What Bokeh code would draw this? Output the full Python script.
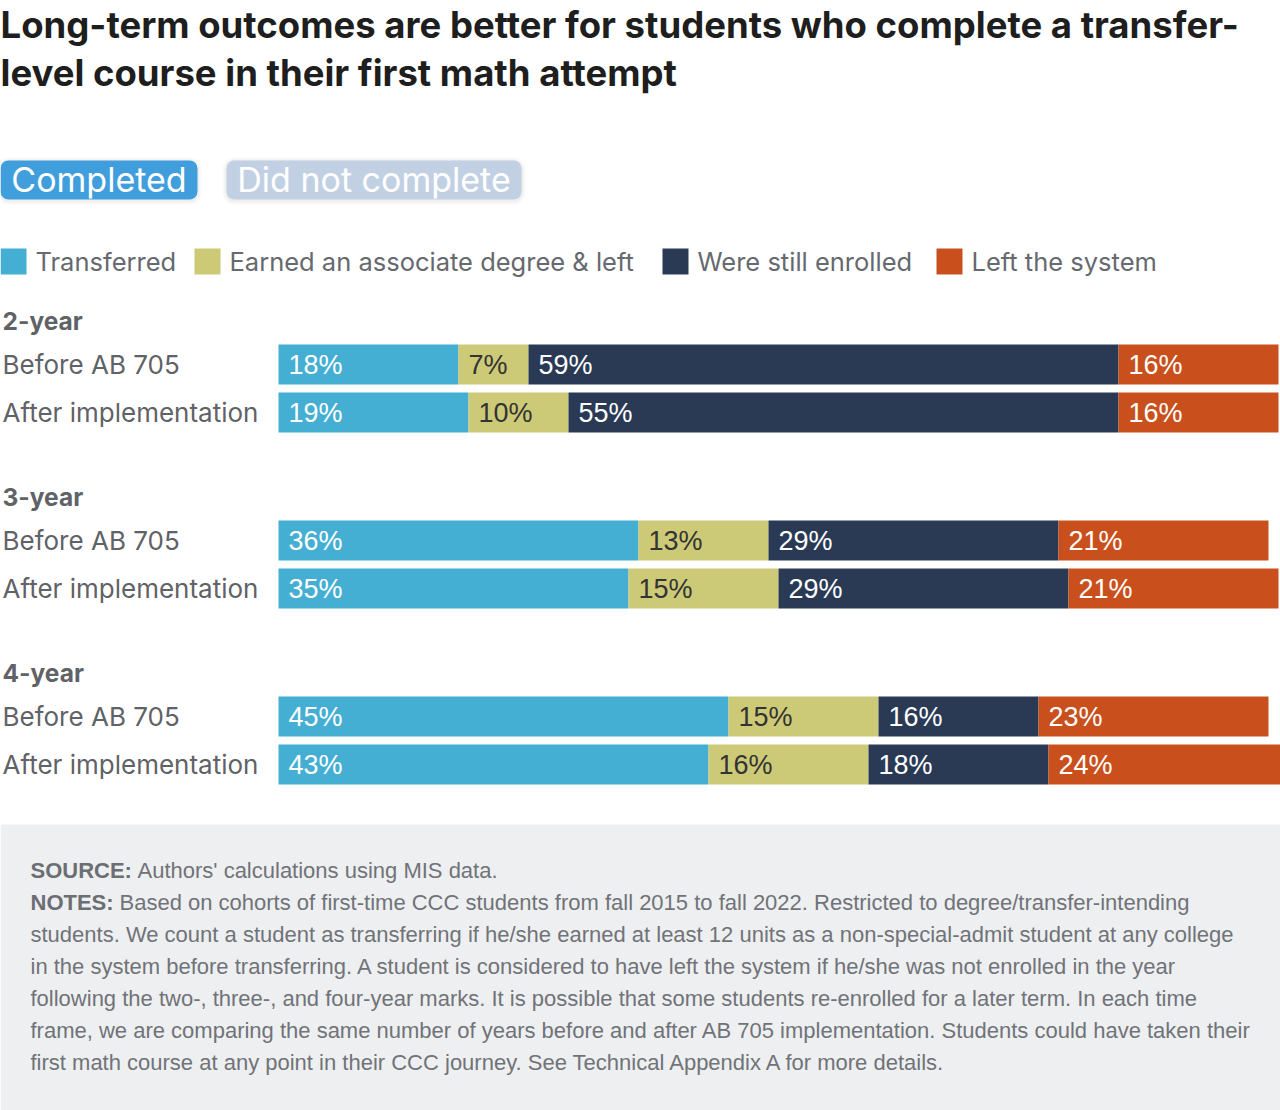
from bokeh.plotting import figure
from bokeh.models import Range1d, BoxAnnotation, ColumnDataSource
from bokeh.core.properties import value
from bokeh.embed import file_html
from bokeh.resources import INLINE

# ---- data -------------------------------------------------------------
groups = ["2-year", "3-year", "4-year"]
periods = ["Before AB 705", "After implementation"]
categories = ["Transferred", "Earned an associate degree & left",
              "Were still enrolled", "Left the system"]
# one entry per row: 2-year before/after, 3-year before/after, 4-year before/after
transferred = [18, 19, 36, 35, 45, 43]
associate = [7, 10, 13, 15, 15, 16]
enrolled = [59, 55, 29, 29, 16, 18]
left_system = [16, 16, 21, 21, 23, 24]

colors = ["#45aed3", "#cdca77", "#2a3a55", "#c9501c"]
label_colors = ["white", "#333333", "white", "white"]

# ---- page geometry (pixels) ------------------------------------------
W, H = 1280, 1110
BAR_X0 = 278          # left edge of bars
PX_PER_PT = 10        # pixels per percentage point


def px(x):
    """horizontal pixel -> x data coordinate"""
    return (x - BAR_X0) / PX_PER_PT


def py(y):
    """vertical pixel (from top) -> y data coordinate"""
    return H - y


LABEL_FONT = value("Inter")
NUM_FONT = value("Liberation Sans")

p = figure(width=W, height=H, output_backend="svg", toolbar_location=None,
           x_range=Range1d(px(0), px(W)), y_range=Range1d(0, H),
           min_border=0, outline_line_color=None)
p.axis.visible = False
p.grid.visible = False
p.background_fill_color = "white"
p.border_fill_color = "white"

# ---- title -------------------------------------------------------------
p.text(x=[px(0), px(0)], y=[py(24), py(72)],
       text=["Long-term outcomes are better for students who complete a transfer-",
             "level course in their first math attempt"],
       text_font=LABEL_FONT, text_font_style="bold", text_font_size="36.5px",
       text_color="#1e1e1e", text_baseline="middle", text_align="left")

# ---- toggle buttons (with a soft drop shadow) ---------------------------
buttons = [(0, 197, "#419edd"), (226, 521, "#c2d0e3")]
for bl, br, bcol in buttons:
    for grow, alpha in [(4, 0.025), (2, 0.04)]:
        p.add_layout(BoxAnnotation(left=px(bl - grow), right=px(br + grow),
                                   top=py(160 - grow + 1), bottom=py(199 + grow + 1),
                                   fill_color="black", fill_alpha=alpha, line_color=None,
                                   border_radius=8 + grow, level="underlay"))
    p.add_layout(BoxAnnotation(left=px(bl), right=px(br), top=py(160), bottom=py(199),
                               fill_color=bcol, fill_alpha=1, line_color=None,
                               border_radius=8, level="underlay"))
p.text(x=[px(98.5), px(373.5)], y=[py(179), py(179)],
       text=["Completed", "Did not complete"],
       text_font=LABEL_FONT, text_font_size="34px", text_color="white",
       text_baseline="middle", text_align="center")

# ---- legend ------------------------------------------------------------
legend_x = [0, 194, 662, 936]
for lx, cat, col in zip(legend_x, categories, colors):
    p.add_layout(BoxAnnotation(left=px(lx), right=px(lx + 26), top=py(248), bottom=py(274),
                               fill_color=col, fill_alpha=1, line_color=None,
                               level="underlay"))
p.text(x=[px(lx + 35) for lx in legend_x], y=[py(261)] * 4, text=categories,
       text_font=LABEL_FONT, text_font_size="25.5px", text_color="#66696e",
       text_baseline="middle", text_align="left")

# ---- stacked bars ------------------------------------------------------
GROUP_STEP, ROW_STEP, FIRST_ROW = 176, 48, 364
row_y = [py(FIRST_ROW + GROUP_STEP * (i // 2) + ROW_STEP * (i % 2)) for i in range(6)]

series = [transferred, associate, enrolled, left_system]
start = [0] * 6
for vals, col, lcol in zip(series, colors, label_colors):
    end = [s + v for s, v in zip(start, vals)]
    src = ColumnDataSource(dict(y=row_y, left=start, right=end,
                                lx=[s + 1.0 for s in start],
                                lab=[f"{v}%" for v in vals]))
    p.hbar(y="y", left="left", right="right", height=40, source=src,
           fill_color=col, line_color=None)
    p.text(x="lx", y="y", text="lab", source=src, text_font=NUM_FONT,
           text_font_size="27px", text_color=lcol,
           text_baseline="middle", text_align="left")
    start = end

# group and row labels
p.text(x=[px(2)] * 3, y=[py(320 + GROUP_STEP * g) for g in range(3)], text=groups,
       text_font=LABEL_FONT, text_font_style="bold", text_font_size="24.5px",
       text_color="#5f6266", text_baseline="middle", text_align="left")
p.text(x=[px(2)] * 6, y=row_y, text=[periods[i % 2] for i in range(6)],
       text_font=LABEL_FONT, text_font_size="26px", text_color="#5f6266",
       text_baseline="middle", text_align="left")

# ---- footer ------------------------------------------------------------
p.add_layout(BoxAnnotation(left=px(0), right=px(W), top=py(824), bottom=py(H),
                           fill_color="#eeeff1", fill_alpha=1, line_color=None,
                           level="underlay"))
notes = [
    "Authors' calculations using MIS data.",
    "Based on cohorts of first-time CCC students from fall 2015 to fall 2022. Restricted to degree/transfer-intending",
    "students. We count a student as transferring if he/she earned at least 12 units as a non-special-admit student at any college",
    "in the system before transferring. A student is considered to have left the system if he/she was not enrolled in the year",
    "following the two-, three-, and four-year marks. It is possible that some students re-enrolled for a later term. In each time",
    "frame, we are comparing the same number of years before and after AB 705 implementation. Students could have taken their",
    "first math course at any point in their CCC journey. See Technical Appendix A for more details.",
]
note_y = [py(870 + 32 * i) for i in range(len(notes))]
note_x = [px(137), px(119)] + [px(30)] * (len(notes) - 2)
p.text(x=[px(30), px(30)], y=note_y[:2], text=["SOURCE:", "NOTES:"],
       text_font=NUM_FONT, text_font_style="bold", text_font_size="22px",
       text_color="#6b6e73", text_baseline="middle", text_align="left")
p.text(x=note_x, y=note_y, text=notes,
       text_font=NUM_FONT, text_font_size="22px", text_color="#707378",
       text_baseline="middle", text_align="left")

open("out.html", "w").write(file_html(p, INLINE))
